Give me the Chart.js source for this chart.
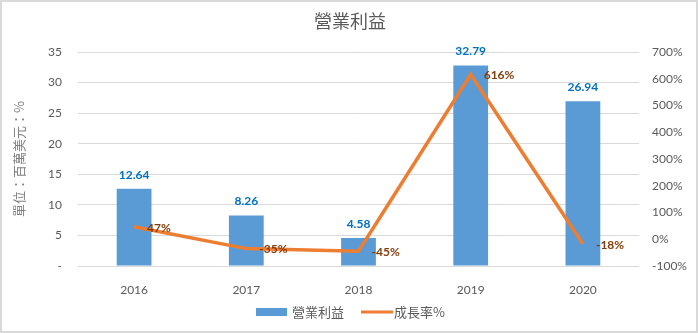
<!DOCTYPE html>
<html>
<head>
<meta charset="utf-8">
<script src="https://cdn.jsdelivr.net/npm/chart.js@4/dist/chart.umd.min.js"></script>
<style>
  html, body { margin: 0; padding: 0; background: #fff; }
  #wrap { width: 698px; height: 333px; position: relative; }
</style>
</head>
<body>
<div id="wrap"><canvas id="c" width="698" height="333"></canvas></div>
<script>
// 營業利益 (百萬美元) and 成長率 (%) by year
const years = ['2016', '2017', '2018', '2019', '2020'];
const operatingIncome = [12.64, 8.26, 4.58, 32.79, 26.94];
const growthRate = [47, -35, -45, 616, -18];

const chartTitle = '營業利益';
const axisTitle = '單位：百萬美元：%';
const legendBar = '營業利益';
const legendLine = '成長率%';

const LATIN = 'Lato, "Noto Sans", sans-serif';
const CJK = '"Noto Sans CJK TC", "Noto Sans", sans-serif';
const BLUE = '#5b9bd5';
const ORANGE = '#ed7d31';

// Frame, title, value labels and legend
const decorations = {
  id: 'decorations',
  beforeDraw(chart) {
    const ctx = chart.ctx;
    ctx.save();
    ctx.fillStyle = '#fff';
    ctx.fillRect(0, 0, chart.width, chart.height);
    ctx.restore();
  },
  afterDraw(chart) {
    const ctx = chart.ctx;
    ctx.save();
    // outer frame
    ctx.strokeStyle = '#d9d9d9';
    ctx.lineWidth = 2;
    ctx.strokeRect(1, 1, chart.width - 2, chart.height - 2);

    // title
    ctx.fillStyle = '#595959';
    ctx.font = '18px ' + CJK;
    ctx.textAlign = 'center';
    ctx.textBaseline = 'middle';
    ctx.fillText(chartTitle, 350, 21);

    // bar value labels
    const barMeta = chart.getDatasetMeta(0);
    ctx.font = 'bold 12px ' + LATIN;
    ctx.fillStyle = '#0070c0';
    ctx.textAlign = 'center';
    barMeta.data.forEach((el, i) => {
      ctx.fillText(operatingIncome[i].toFixed(2), el.x, el.y - 14);
    });

    // growth labels
    const lineMeta = chart.getDatasetMeta(1);
    ctx.fillStyle = '#843c0c';
    ctx.textAlign = 'left';
    lineMeta.data.forEach((el, i) => {
      ctx.fillText(growthRate[i] + '%', el.x + 13, el.y + 1);
    });

    // legend
    const ly = 312;
    ctx.fillStyle = BLUE;
    ctx.fillRect(256, ly - 4, 31, 8);
    ctx.fillStyle = '#595959';
    ctx.font = '13px ' + CJK;
    ctx.textAlign = 'left';
    ctx.fillText(legendBar, 292, ly);
    ctx.strokeStyle = ORANGE;
    ctx.lineWidth = 3;
    ctx.beginPath();
    ctx.moveTo(361, ly);
    ctx.lineTo(393, ly);
    ctx.stroke();
    ctx.fillText(legendLine, 394, ly);
    ctx.restore();
  }
};

new Chart(document.getElementById('c'), {
  data: {
    labels: years,
    datasets: [
      {
        type: 'bar',
        label: legendBar,
        data: operatingIncome,
        backgroundColor: BLUE,
        yAxisID: 'y',
        order: 2,
        categoryPercentage: 1,
        barPercentage: 0.31
      },
      {
        type: 'line',
        label: legendLine,
        data: growthRate,
        borderColor: ORANGE,
        backgroundColor: ORANGE,
        borderWidth: 3.5,
        pointRadius: 0,
        tension: 0,
        yAxisID: 'y1',
        order: 1
      }
    ]
  },
  options: {
    responsive: false,
    animation: false,
    devicePixelRatio: 1,
    layout: { padding: { top: 52, left: 0, right: 0, bottom: 0 } },
    plugins: {
      legend: { display: false },
      title: { display: false },
      tooltip: { enabled: false }
    },
    scales: {
      x: {
        grid: { display: false },
        border: { display: false },
        ticks: { color: '#595959', font: { family: LATIN, size: 12 }, padding: 9 },
        afterFit(s) { s.height = 67; }
      },
      y: {
        position: 'left',
        min: 0,
        max: 35,
        ticks: {
          stepSize: 5,
          color: '#595959',
          font: { family: LATIN, size: 12 },
          padding: 16,
          callback: v => (v === 0 ? '-' : v)
        },
        grid: { color: '#d9d9d9', drawTicks: false, lineWidth: 1 },
        border: { display: false },
        title: {
          display: true,
          text: axisTitle,
          color: '#7f7f7f',
          font: { family: CJK, size: 13 },
          padding: { top: 11, bottom: 0 }
        },
        afterFit(s) { s.width = 78; }
      },
      y1: {
        position: 'right',
        min: -100,
        max: 700,
        ticks: {
          stepSize: 100,
          color: '#595959',
          font: { family: LATIN, size: 12 },
          padding: 13,
          callback: v => v + '%'
        },
        grid: { drawOnChartArea: false, drawTicks: false },
        border: { display: false },
        afterFit(s) { s.width = 59; }
      }
    }
  },
  plugins: [decorations]
});
</script>
</body>
</html>
